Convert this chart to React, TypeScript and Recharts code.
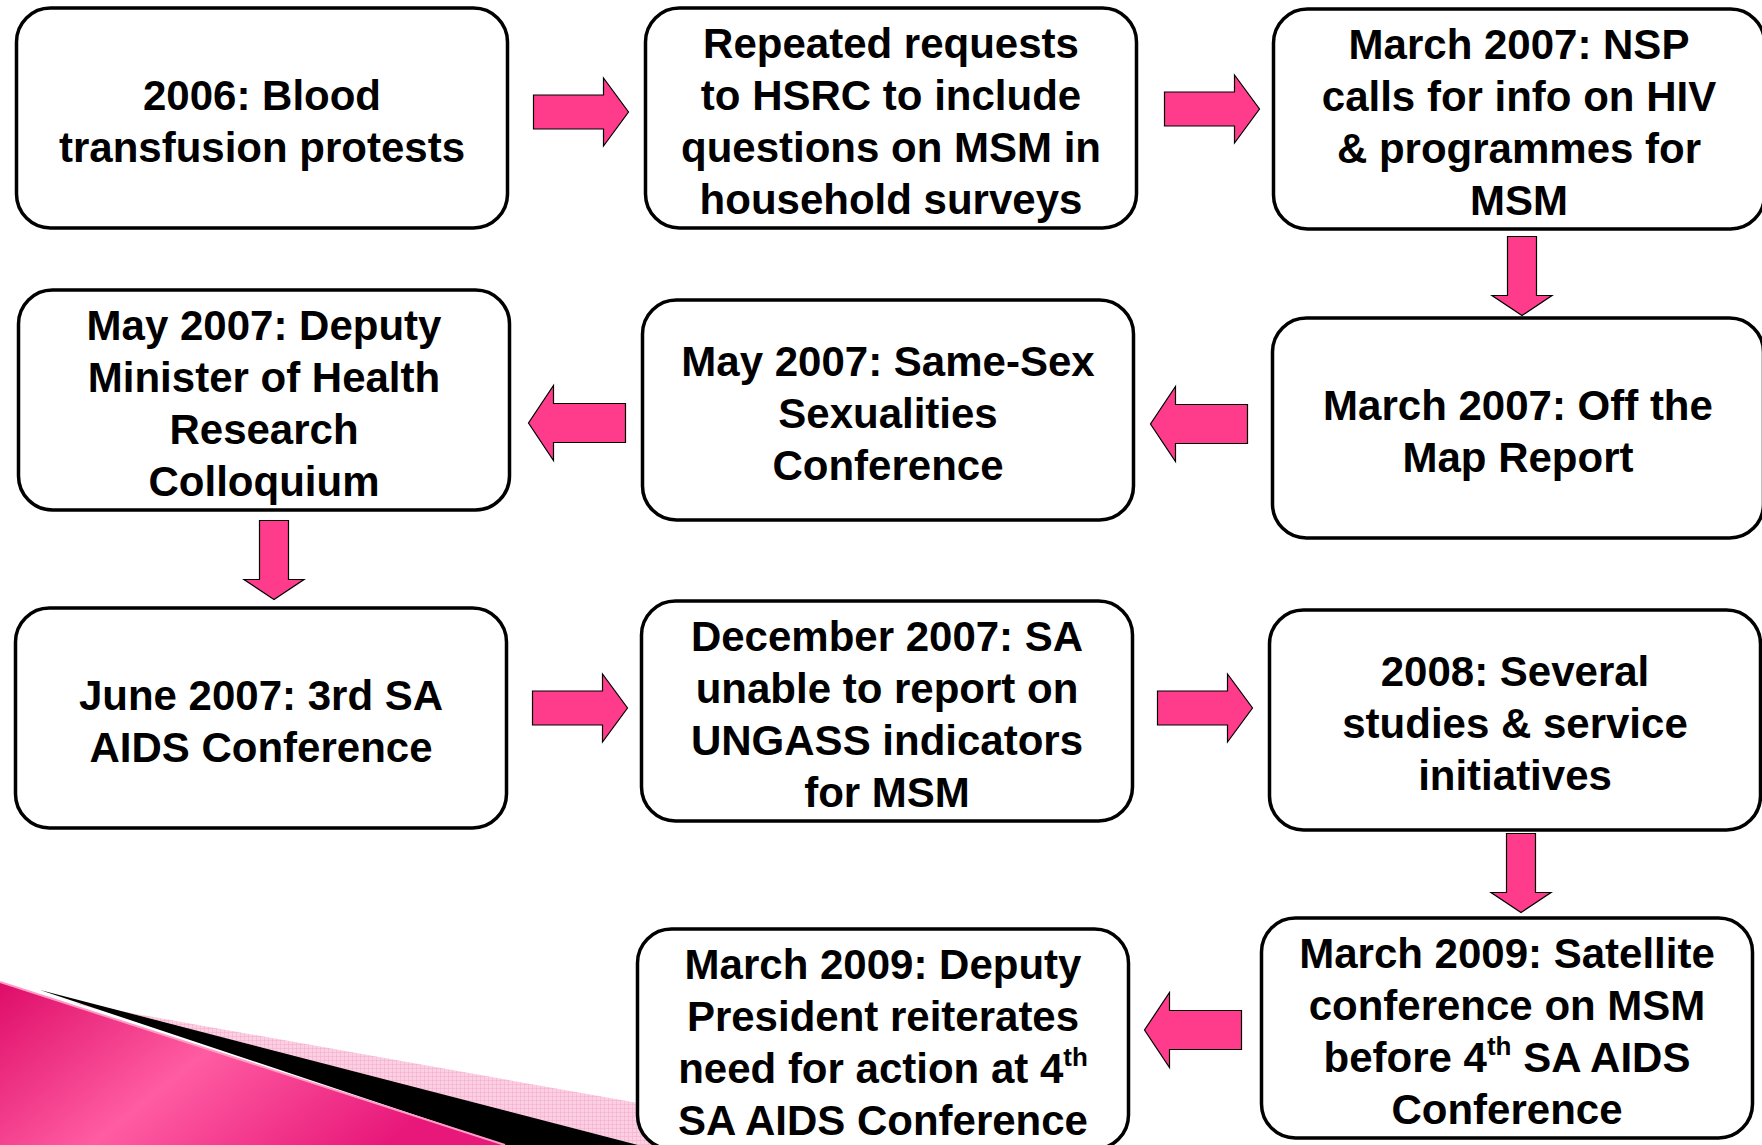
import { ScatterChart, Scatter, XAxis, YAxis } from "recharts";

// steps in chronological order, one entry per box (lines of text; "^th" = superscript)
const stepLines: string[][] = [
  ["2006: Blood", "transfusion protests"],
  ["Repeated requests", "to HSRC to include", "questions on MSM in", "household surveys"],
  ["March 2007: NSP", "calls for info on HIV", "& programmes for", "MSM"],
  ["March 2007: Off the", "Map Report"],
  ["May 2007: Same-Sex", "Sexualities", "Conference"],
  ["May 2007: Deputy", "Minister of Health", "Research", "Colloquium"],
  ["June 2007: 3rd SA", "AIDS Conference"],
  ["December 2007: SA", "unable to report on", "UNGASS indicators", "for MSM"],
  ["2008: Several", "studies & service", "initiatives"],
  ["March 2009: Satellite", "conference on MSM", "before 4^th SA AIDS", "Conference"],
  ["March 2009: Deputy", "President reiterates", "need for action at 4^th", "SA AIDS Conference"],
];

// which step leads to which
const links: [number, number][] = [
  [0, 1], [1, 2], [2, 3], [3, 4], [4, 5], [5, 6], [6, 7], [7, 8], [8, 9], [9, 10],
];

// ---- layout (pixel units, the axes map 1:1 onto the canvas) ----
const W = 1762;
const H = 1145;
const BOX_W = 491;
const BOX_H = 220;
const LINE_H = 52;
const PINK = "#FF3C8C";

const boxCenters: [number, number][] = [
  [262, 118], [891, 118], [1519, 119], [1518, 428], [888, 410], [264, 400],
  [261, 718], [887, 711], [1515, 720], [1507, 1028], [883, 1039],
];

type Dir = "right" | "left" | "down";
const arrowSpots: { x: number; y: number; dir: Dir }[] = [
  { x: 581, y: 112, dir: "right" },
  { x: 1212, y: 109, dir: "right" },
  { x: 1522, y: 276, dir: "down" },
  { x: 1199, y: 424, dir: "left" },
  { x: 577, y: 423, dir: "left" },
  { x: 274, y: 560, dir: "down" },
  { x: 580, y: 708, dir: "right" },
  { x: 1205, y: 708, dir: "right" },
  { x: 1521, y: 873, dir: "down" },
  { x: 1193, y: 1030, dir: "left" },
];

const boxData = stepLines.map((lines, i) => ({
  x: boxCenters[i][0],
  y: boxCenters[i][1],
  lines,
}));

const arrowData = links.map((_, i) => ({ ...arrowSpots[i] }));

const decorData = [{ x: 0, y: H }];

function renderLine(line: string) {
  const parts = line.split("^th");
  if (parts.length === 1) return line;
  return [
    <tspan key="a">{parts[0]}</tspan>,
    <tspan key="b" dy={-17} fontSize={26}>th</tspan>,
    <tspan key="c" dy={17}>{parts[1]}</tspan>,
  ];
}

function BoxShape(props: any) {
  const { cx, cy, payload } = props;
  const lines: string[] = payload.lines;
  const n = lines.length;
  return (
    <g>
      <rect
        x={cx - BOX_W / 2}
        y={cy - BOX_H / 2}
        width={BOX_W}
        height={BOX_H}
        rx={34}
        ry={34}
        fill="#fff"
        stroke="#000"
        strokeWidth={3.5}
      />
      {lines.map((ln, i) => (
        <text
          key={i}
          x={cx}
          y={cy + (i - (n - 1) / 2) * LINE_H + 17.5}
          textAnchor="middle"
          fontFamily="'Liberation Sans', Arial, sans-serif"
          fontWeight="bold"
          fontSize={42}
          fill="#000"
        >
          {renderLine(ln)}
        </text>
      ))}
    </g>
  );
}

function ArrowShape(props: any) {
  const { cx, cy, payload } = props;
  let pts: number[][];
  if (payload.dir === "down") {
    const len = 79, head = 60, shaft = 29, hl = 20;
    const t = cy - len / 2, b = cy + len / 2;
    pts = [
      [cx - shaft / 2, t], [cx + shaft / 2, t], [cx + shaft / 2, b - hl],
      [cx + head / 2, b - hl], [cx, b], [cx - head / 2, b - hl], [cx - shaft / 2, b - hl],
    ];
  } else {
    const left = payload.dir === "left";
    const len = left ? 97 : 95, head = left ? 75 : 68, shaft = left ? 39 : 34, hl = 25;
    const s = left ? -1 : 1;
    const tail = cx - (s * len) / 2, tip = cx + (s * len) / 2, base = tip - s * hl;
    pts = [
      [tail, cy - shaft / 2], [base, cy - shaft / 2], [base, cy - head / 2],
      [tip, cy], [base, cy + head / 2], [base, cy + shaft / 2], [tail, cy + shaft / 2],
    ];
  }
  return (
    <polygon
      points={pts.map((p) => p.join(",")).join(" ")}
      fill={PINK}
      stroke="#000"
      strokeWidth={1.2}
    />
  );
}

function DecorShape(props: any) {
  const { cx, cy } = props;
  // cx, cy = bottom-left corner of the slide
  const p = (dx: number, dy: number) => `${cx + dx},${cy + dy}`;
  return (
    <g>
      <defs>
        <linearGradient id="wedgePink" x1="0" y1="0" x2="1" y2="0.4">
          <stop offset="0%" stopColor="#DE0C68" />
          <stop offset="50%" stopColor="#FF5CA2" />
          <stop offset="100%" stopColor="#E8187A" />
        </linearGradient>
        <pattern id="lightGrid" width="4" height="4" patternUnits="userSpaceOnUse">
          <rect width="4" height="4" fill="#FBD0E2" />
          <path d="M0,0 L4,0 M0,0 L0,4" stroke="#F7A9CA" strokeWidth="1" />
        </pattern>
      </defs>
      <polygon points={[p(69, -143), p(875, 0), p(638, 0)].join(" ")} fill="url(#lightGrid)" />
      <polygon points={[p(40, -155), p(638, 0), p(505, 0)].join(" ")} fill="#000" />
      <polygon points={[p(0, -163), p(505, 0), p(0, 0)].join(" ")} fill="url(#wedgePink)" />
      <polyline
        points={[p(0, -163), p(505, 0)].join(" ")}
        fill="none"
        stroke="#FF9CC6"
        strokeWidth={2}
      />
    </g>
  );
}

export default function App() {
  return (
    <div
      style={{
        position: "absolute",
        left: 0,
        top: 0,
        width: W,
        height: H,
        background: "#fff",
        overflow: "hidden",
      }}
    >
      <ScatterChart width={W} height={H} margin={{ top: 0, right: 0, bottom: 0, left: 0 }}>
        <XAxis type="number" dataKey="x" domain={[0, W]} allowDataOverflow hide />
        <YAxis type="number" dataKey="y" domain={[0, H]} allowDataOverflow reversed hide />
        <Scatter data={decorData} shape={DecorShape} isAnimationActive={false} />
        <Scatter data={arrowData} shape={ArrowShape} isAnimationActive={false} />
        <Scatter data={boxData} shape={BoxShape} isAnimationActive={false} />
      </ScatterChart>
    </div>
  );
}
